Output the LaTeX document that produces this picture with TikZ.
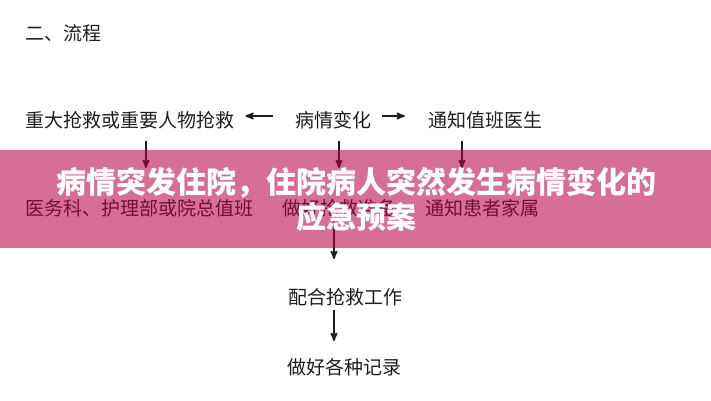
\documentclass[tikz,border=0pt]{standalone}
\usepackage{fontspec}
\setmainfont{Noto Sans CJK SC}
\usetikzlibrary{arrows,positioning}
\definecolor{bannerpink}{RGB}{183,0,71}
\definecolor{inkgray}{RGB}{30,30,30}
\tikzset{
        >=stealth', % arrow heads
        flow text/.style={inner sep=0pt, text=inkgray, font=\fontsize{19pt}{19pt}\selectfont}, % every step of the flow
        flow arrow/.style={->, line width=1.8pt, draw=inkgray},
    }
\tikzset{
      banner/.style={
		fill=bannerpink,
		fill opacity=0.57,
	  },
  		banner title/.style={
    	text=white, align=center,
    	font=\bfseries\fontsize{30pt}{35pt}\selectfont,
      }
  	}

\begin{document}
\begin{tikzpicture}[x=1pt,y=-1pt]
    \useasboundingbox (0,0) rectangle (711,400);
    \node [flow text, anchor=west] (head) at (25,33) {二、流程};
    \node [flow text, anchor=west] (rescue) at (25,120) {重大抢救或重要人物抢救};
    \node [flow text] (change) at (333,120) {病情变化};
    \node [flow text] (doctor) at (485,120) {通知值班医生};
    \node [flow text, anchor=west] (office) at (25,208) {医务科、护理部或院总值班};
    \node [flow text] (prepare) at (339,208) {做好抢救准备};
    \node [flow text] (family) at (482,208) {通知患者家属};
    \node [flow text] (assist) at (345,297) {配合抢救工作};
    \node [flow text] (record) at (344,367) {做好各种记录};
    % arrows
    \draw [flow arrow, shorten <=22pt, shorten >=11pt] ([yshift=4pt]change.west) -- ([yshift=4pt]rescue.east);
    \draw [flow arrow, shorten <=11pt, shorten >=23pt] ([yshift=4pt]change.east) -- ([yshift=4pt]doctor.west);
    \draw [flow arrow, shorten <=12pt, shorten >=31pt] (rescue.south -| 146,0) -- (office.north -| 146,0);
    \draw [flow arrow, shorten <=12pt, shorten >=31pt] (change.south -| 339,0) -- (prepare.north -| 339,0);
    \draw [flow arrow, shorten <=12pt, shorten >=31pt] (doctor.south -| 462,0) -- (family.north -| 462,0);
    \draw [flow arrow, shorten <=3pt, shorten >=29pt] (prepare.south -| 334,0) -- (assist.north -| 334,0);
    \draw [flow arrow, shorten <=4pt, shorten >=17pt] (assist.south -| 334,0) -- (record.north -| 334,0);
    % banner over the flow
    \fill [banner] (0,150) rectangle (711,248);
    \node [banner title] (title) at (356,200) {病情突发住院，住院病人突然发生病情变化的\\应急预案};
\end{tikzpicture}
\end{document}
